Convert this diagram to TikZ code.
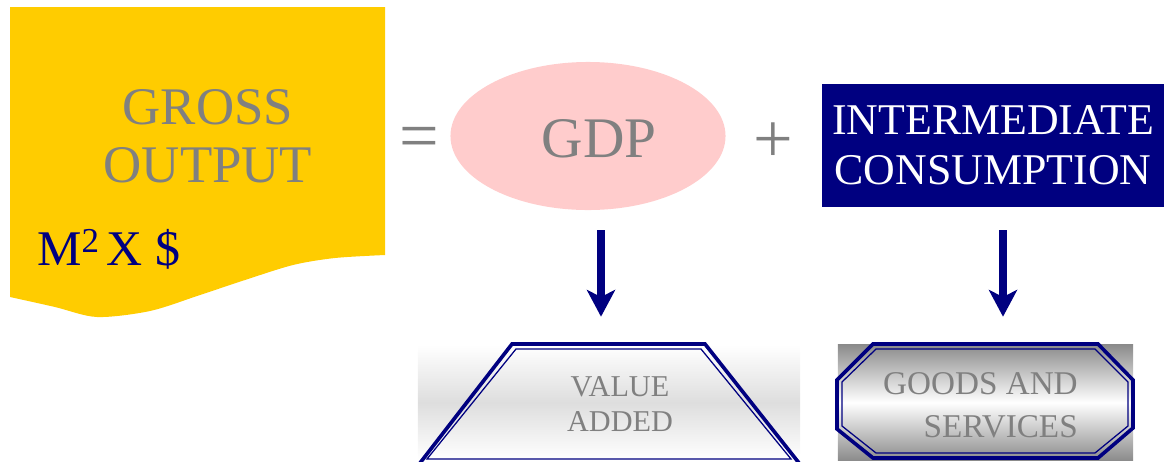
\documentclass[tikz,border=0pt]{standalone}
\usepackage{fontspec}
\setmainfont{Liberation Serif}
\usetikzlibrary{arrows.meta,shapes.geometric}
\definecolor{navy}{HTML}{000080}
\definecolor{gold}{HTML}{FFCC00}
\definecolor{pinkish}{HTML}{FFCCCC}
\definecolor{txtgray}{HTML}{808080}

\begin{document}
\begin{tikzpicture}[x=0.025cm,y=-0.025cm,
    graytext/.style={inner sep=0pt,text=txtgray,align=center},
    bigarrow/.style={navy,line width=5.7pt,-{Stealth[length=19pt,width=20pt,inset=5pt]}},
    panel/.style={inner sep=0pt,minimum height=2.875cm}]
  \def\navyframe#1#2{%
    \draw[navy,line width=2.6pt,line join=miter] #1;
    \draw[navy,line width=0.9pt] #2;
  }
  \useasboundingbox (0,0) rectangle (1164,461);
  % gross output sheet
  \fill[gold] (10,7) -- (385,7) -- (385,255) -- plot[smooth] coordinates
    {(385,255) (335,258) (293,265) (245,280) (200,295) (150,311) (97,317) (55,307) (10,297)} -- cycle;
  \node[graytext,font=\fontsize{37.6}{41.3}\selectfont] (gross) at (208,136.5) {GROSS\\OUTPUT};
  \node[anchor=base west,inner sep=0pt,text=navy,font=\fontsize{35.5}{40}\selectfont] (units) at (37,265)
    {M\textsuperscript{2}\hspace{5pt}X\hspace{9pt}\$};
  % equation
  \node[graytext,font=\fontsize{50}{50}\selectfont] (eq) at (419,143.5) {=};
  \node[ellipse,fill=pinkish,inner sep=0pt,minimum width=6.875cm,minimum height=3.7cm] (gdp) at (588,136) {};
  \node[graytext,font=\fontsize{40.8}{44}\selectfont] (gdptext) at (599,139) {GDP};
  \node[graytext,font=\fontsize{50}{50}\selectfont] (plus) at (773,142.5) {+};
  \node[fill=navy,text=white,inner sep=0pt,align=center,minimum width=8.55cm,minimum height=3.075cm,
    font=\fontsize{31.2}{35.6}\selectfont] (im) at (993,145.5) {INTERMEDIATE\\CONSUMPTION};
  % lower panels
  \node[panel,minimum width=9.55cm,top color=white,bottom color=white,middle color=black!13] (va) at (609,402.5) {};
  \node[panel,minimum width=7.375cm,top color=black!45,bottom color=black!45,middle color=white] (gs) at (985.5,402.5) {};
  \navyframe{(420,463) -- (512,344) -- (705,344) -- (799,463)}
            {(427,459) -- (516,349) -- (701,349) -- (791,459) -- cycle}
  \navyframe{(873,344) -- (1098,344) -- (1133,380) -- (1133,428) -- (1098,458) -- (873,458) -- (837,429) -- (837,380) -- cycle}
            {(876,349) -- (1095,349) -- (1128,382) -- (1128,426) -- (1095,453) -- (876,453) -- (842,426) -- (842,382) -- cycle}
  \node[graytext,font=\fontsize{21.5}{24.9}\selectfont] (vatext) at (620,404.5) {VALUE\\ADDED};
  \node[graytext,align=right,anchor=east,font=\fontsize{23.6}{30.6}\selectfont] (gstext) at (1078,405.5) {GOODS AND\\SERVICES};
  % arrows
  \coordinate (gdpfoot) at (601,230);
  \coordinate (imfoot) at (1003,230);
  \draw[bigarrow,shorten >=0.7cm] (gdpfoot) -- (gdpfoot |- va.north);
  \draw[bigarrow,shorten >=0.7cm] (imfoot) -- (imfoot |- gs.north);
\end{tikzpicture}
\end{document}
